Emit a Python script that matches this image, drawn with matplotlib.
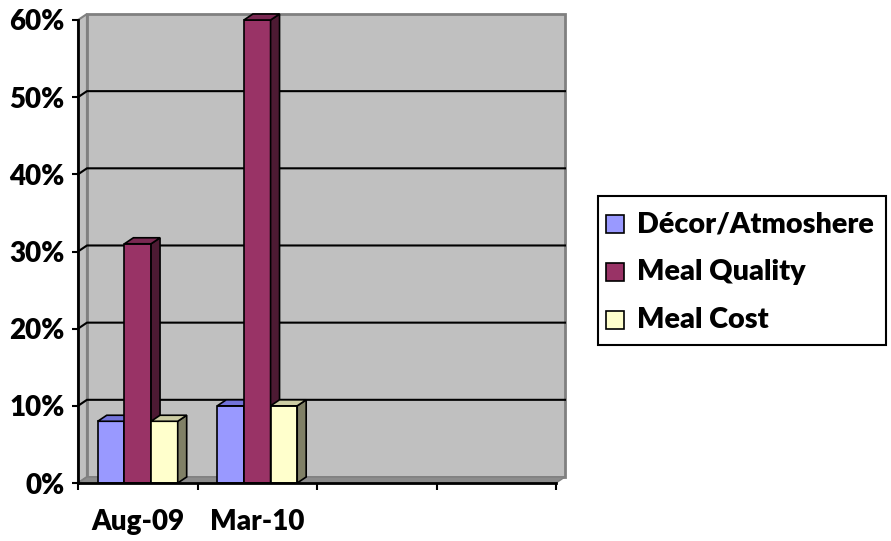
import matplotlib.pyplot as plt
from matplotlib.patches import Polygon, Rectangle

periods = ["Aug-09", "Mar-10"]
series = ["Décor/Atmoshere", "Meal Quality", "Meal Cost"]
decor = [0.08, 0.10]
quality = [0.31, 0.60]
cost = [0.08, 0.10]
y_ticks = [0.0, 0.1, 0.2, 0.3, 0.4, 0.5, 0.6]
n_slots = 4  # category slots on the x axis (two left empty)

# face shades for each series: front, top, right side
front = ["#9999FF", "#993366", "#FFFFCC"]
top = ["#7373D9", "#7A2952", "#CCCCA3"]
side = ["#5C5C99", "#4D1A33", "#808066"]

plt.rcParams['font.family'] = ['Lato', 'DejaVu Sans']
plt.rcParams['font.weight'] = 'heavy'
plt.rcParams['font.size'] = 20

fig = plt.figure(figsize=(8.91, 5.41), dpi=100)
ax = fig.add_axes([78 / 891, 58 / 541, 478 / 891, 463 / 541])
ax.set_xlim(0, n_slots)
ax.set_ylim(0, y_ticks[-1])
ax.patch.set_visible(False)

dx, dy = 0.075, 0.0078  # depth offset for the fake 3d look
ymax = y_ticks[-1]
wall = "#C0C0C0"
wall_edge = "#808080"

# side wall, back wall, gridlines, floor
ax.add_patch(Polygon([(0, 0), (dx, dy), (dx, ymax + dy), (0, ymax)],
                     fc=wall, ec=wall_edge, lw=1.5, clip_on=False, zorder=1))
ax.add_patch(Polygon([(dx, dy), (n_slots + dx, dy), (n_slots + dx, ymax + dy), (dx, ymax + dy)],
                     fc=wall, ec=wall_edge, lw=2, clip_on=False, zorder=1))
for t in y_ticks[1:-1]:
    ax.plot([0, dx, n_slots + dx], [t, t + dy, t + dy], color='black', lw=1.5,
            clip_on=False, zorder=2)
ax.add_patch(Polygon([(0, 0), (n_slots, 0), (n_slots + dx, dy), (dx, dy)],
                     fc="#8C8C8C", ec=wall_edge, lw=1, clip_on=False, zorder=3))

# bars
values = [decor, quality, cost]
width = 0.223
z = 4
for j in range(len(periods)):
    for k in range(len(series)):
        x0 = j + 0.5 + (k - 1.5) * width
        v = values[k][j]
        ax.bar(x0, v, width, align='edge', color=front[k], edgecolor='black',
               lw=1.2, zorder=z, clip_on=False)
        x1 = x0 + width
        ax.add_patch(Polygon([(x1, 0), (x1 + dx, dy), (x1 + dx, v + dy), (x1, v)],
                             fc=side[k], ec='black', lw=1.2, clip_on=False, zorder=z))
        ax.add_patch(Polygon([(x0, v), (x0 + dx, v + dy), (x1 + dx, v + dy), (x1, v)],
                             fc=top[k], ec='black', lw=1.2, clip_on=False, zorder=z))
        z += 0.1

# axes
for s in ['top', 'right']:
    ax.spines[s].set_visible(False)
for s in ['left', 'bottom']:
    ax.spines[s].set_linewidth(2)
    ax.spines[s].set_zorder(10)
ax.set_yticks(y_ticks)
ax.set_yticklabels([f"{int(round(t * 100))}%" for t in y_ticks])
ax.tick_params(axis='y', direction='out', length=4.5, width=1.5, pad=5)
ax.set_xticks(range(n_slots + 1))
ax.set_xticklabels([])
ax.set_xticks([j + 0.5 for j in range(len(periods))], minor=True)
ax.set_xticklabels(periods, minor=True)
ax.tick_params(axis='x', which='major', direction='out', length=5, width=1.5)
ax.tick_params(axis='x', which='minor', length=0, pad=18.5)

# legend box
lax = fig.add_axes([0, 0, 1, 1])
lax.set_xlim(0, 891)
lax.set_ylim(541, 0)
lax.axis('off')
lax.add_patch(Rectangle((598, 196), 288, 149, fc='white', ec='black', lw=1.5))
for k, name in enumerate(series):
    yc = 224 + 48 * k
    lax.add_patch(Rectangle((606, yc - 9), 18, 18, fc=front[k], ec='black', lw=1.2))
    lax.text(637, yc, name, va='center', ha='left', fontsize=20.7)

fig.savefig("out.png", dpi=100)
